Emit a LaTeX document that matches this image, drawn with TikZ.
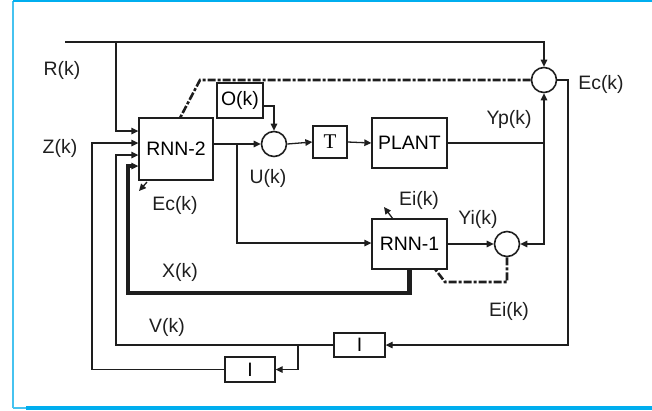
\documentclass[tikz,border=0pt]{standalone}
\usepackage{fontspec}
\setmainfont{Liberation Sans}
\newfontfamily\serifT{Liberation Serif}
\usetikzlibrary{arrows.meta,calc}
\definecolor{frameblue}{RGB}{0,174,239}
\definecolor{framelight}{RGB}{70,195,240}
\definecolor{ink}{RGB}{30,30,30}
\tikzset{
  blockbox/.style={draw=ink,line width=1.3bp,rectangle,inner sep=0pt,font=\fontsize{19.5}{20}\selectfont},
  sumnode/.style={draw=ink,line width=1.6bp,circle,inner sep=0pt,minimum size=25bp},
  wire/.style={draw=ink,line width=1.3bp},
  tip/.style={-{Triangle[length=7bp,width=6.5bp]}},
  thickwire/.style={draw=ink,line width=4.5bp},
  dashwire/.style={draw=ink,line width=2.6bp,dash pattern=on 8bp off 2bp on 3bp off 2bp},
  lbl/.style={font=\fontsize{19.5}{20}\selectfont,inner sep=0pt,text=ink}
}
\begin{document}
\begin{tikzpicture}[x=1bp,y=-1bp]
\useasboundingbox (0,0) rectangle (652,410);
% frame
\draw[framelight,line width=2bp] (13,1) -- (13,408);
\draw[frameblue,line width=2bp] (13,1) -- (652,1);
\draw[framelight,line width=1.5bp] (13,408) -- (27,408);
\draw[frameblue,line width=3.5bp] (26,408.2) -- (652,408.2);

% blocks
\node[blockbox,minimum width=74bp,minimum height=62bp] (rnn2) at (176,149) {RNN-2};
\node[blockbox,minimum width=46bp,minimum height=35bp] (ok) at (240,100.5) {O(k)};
\node[sumnode] (sumU) at (274,144) {};
\node[blockbox,minimum width=34bp,minimum height=32bp] (tbox) at (330,142) {\fontsize{21}{22}\selectfont\serifT T};
\node[blockbox,minimum width=75bp,minimum height=50bp] (plant) at (409.5,143) {PLANT};
\node[sumnode] (sumEc) at (544,80) {};
\node[blockbox,minimum width=75bp,minimum height=50bp] (rnn1) at (409.5,244) {RNN-1};
\node[sumnode] (sumYi) at (507,244) {};
\node[blockbox,minimum width=51bp,minimum height=24bp] (i1) at (359.5,345) {I};
\node[blockbox,minimum width=50bp,minimum height=25bp] (i2) at (250,369.5) {I};

% coordinates
\coordinate (rs) at (65,42);
\coordinate (rb) at (116,42);
\coordinate (yj) at (544,143);
\coordinate (ub) at (237,143);
\coordinate (vb) at (298,345);
\coordinate (ecs) at (147,182);
\coordinate (ece) at (139,191);
\coordinate (eis) at (393,219);
\coordinate (eie) at (384,207);

% connectors
\draw[wire,tip] (rs) -| (sumEc.north);
\draw[wire,tip] (rb) |- (rnn2.west |- 0,131);
\draw[wire,tip] (i2.west) -| (92,143) -- (rnn2.west |- 0,143);
\draw[wire,tip] (i1.west) -| (116,155) -- (rnn2.west |- 0,155);
\draw[thickwire] (rnn1.south) |- (128,293) |- (134,166);
\draw[wire,tip] (133,166) -- (rnn2.west |- 0,166);
\draw[wire,tip] (ecs) -- (ece);
\draw[wire,tip] (rnn2.east |- sumU.west) -- (sumU.west);
\draw[wire,tip] (sumU.east) -- (tbox.west);
\draw[wire,tip] (tbox.east) -- (plant.west);
\draw[wire,tip] (ok.east |- 0,106) -| (sumU.north);
\draw[wire] (plant.east |- yj) -- (yj);
\draw[wire,tip] (yj) -- (sumEc.south);
\draw[wire,tip] (yj) |- (sumYi.east);
\draw[wire,tip] (sumEc.east) -| (568,345) -- (i1.east);
\draw[wire,tip] (vb) |- (i2.east);
\draw[wire,tip] (ub) |- (rnn1.west |- 0,243);
\draw[wire,tip] (rnn1.east |- sumYi.west) -- (sumYi.west);
\draw[wire,tip] (eis) -- (eie);
\draw[dashwire] (sumYi.south) |- (445,282) -- (435,269);
\draw[dashwire] (sumEc.west) -- (200,80) -- (180,118);

% labels
\node[lbl] (lR) at (62,70) {R(k)};
\node[lbl] (lZ) at (60,148) {Z(k)};
\node[lbl] (lEc1) at (175,205) {Ec(k)};
\node[lbl] (lU) at (268,178) {U(k)};
\node[lbl] (lYp) at (509,119) {Yp(k)};
\node[lbl] (lEc2) at (601,84) {Ec(k)};
\node[lbl] (lEi1) at (419,200) {Ei(k)};
\node[lbl] (lYi) at (478,219) {Yi(k)};
\node[lbl] (lX) at (180,272) {X(k)};
\node[lbl] (lV) at (167,327) {V(k)};
\node[lbl] (lEi2) at (509,311) {Ei(k)};
\end{tikzpicture}
\end{document}
